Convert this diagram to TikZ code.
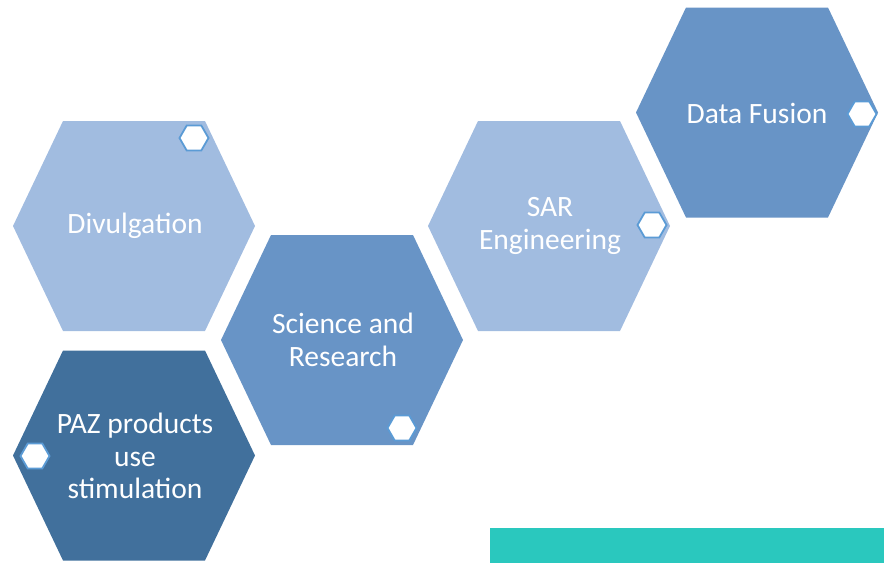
\documentclass[tikz,border=0pt]{standalone}
\usepackage{fontspec}
\setmainfont{Carlito}
\usetikzlibrary{shapes.geometric}
\definecolor{hexlight}{HTML}{A1BCE0}
\definecolor{hexmid}{HTML}{6894C6}
\definecolor{hexdark}{HTML}{41709C}
\definecolor{hexline}{HTML}{5B9BD5}
\definecolor{teal}{HTML}{2AC8BE}
\tikzset{
	hexlabel/.style={text=white, align=center, font=\fontsize{29.5}{32.5}\selectfont},
	dot/.style={regular polygon, regular polygon sides=6, minimum size=29pt, inner sep=0pt, fill=white, draw=hexline, line width=1.8pt}
}
% big hexagon round a centre
\newcommand{\bighex}[3]{\fill[#3] (#1-122,#2) -- ++(50,-105) -- ++(142,0) -- ++(50,105) -- ++(-50,105) -- ++(-142,0) -- cycle;}
\begin{document}
\begin{tikzpicture}[x=1pt,y=-1pt]
		\useasboundingbox (0,0) rectangle (884,563);
		% hexagons
			\bighex{135}{226}{hexlight}
			\bighex{135}{455.5}{hexdark}
			\bighex{343}{340}{hexmid}
			\bighex{550}{226}{hexlight}
			\bighex{758}{112.5}{hexmid}
		% labels
			\node [hexlabel] (divulgation) at (135,226) {Divulgation};
			\node [hexlabel] (paz) at (135,456) {PAZ products\\use\\stimulation};
			\node [hexlabel] (science) at (343,340) {Science and\\Research};
			\node [hexlabel] (sar) at (550,226) {SAR\\Engineering};
			\node [hexlabel] (fusion) at (757,113) {Data Fusion};
		% small hexagons
			\node [dot] (d1) at (194,138) {};
			\node [dot] (d2) at (35,456) {};
			\node [dot] (d3) at (402,428) {};
			\node [dot] (d4) at (652,225) {};
			\node [dot] (d5) at (862,114) {};
		% bar
			\fill [teal] (490,528) rectangle (884,563);
	\end{tikzpicture}
\end{document}
